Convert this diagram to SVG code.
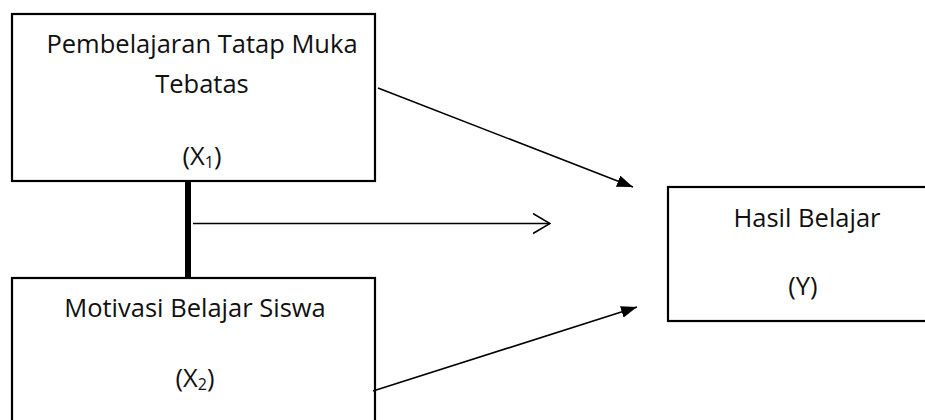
<svg xmlns="http://www.w3.org/2000/svg" width="925" height="420" viewBox="0 0 925 420">
<style>
.box{fill:#fff;stroke:#000;stroke-width:2.2}
.t{font-family:"Open Sans","Liberation Sans",sans-serif;font-size:25.5px;fill:#111;text-anchor:middle}
.sub{font-size:16px}
.ln{stroke:#000;stroke-width:1.6;fill:none}
</style>
<defs>
<marker id="tri" viewBox="0 0 16 12" refX="16" refY="6" markerWidth="16" markerHeight="12" markerUnits="userSpaceOnUse" orient="auto">
<path d="M0,0 L16,6 L0,12 Z" fill="#000"/>
</marker>
<marker id="open" viewBox="0 0 18 22" refX="17" refY="11" markerWidth="18" markerHeight="22" markerUnits="userSpaceOnUse" orient="auto">
<path d="M0,1 L17,11 L0,21" fill="none" stroke="#000" stroke-width="1.6"/>
</marker>
</defs>
<g id="x1">
<rect class="box" x="12" y="14" width="363" height="167"/>
<text class="t" x="202" y="53">Pembelajaran Tatap Muka</text>
<text class="t" x="202" y="93">Tebatas</text>
<text class="t" x="202" y="165">(X<tspan class="sub" dy="3">1</tspan><tspan dy="-3">)</tspan></text>
</g>
<g id="x2">
<rect class="box" x="12" y="278" width="363" height="160"/>
<text class="t" x="195" y="317">Motivasi Belajar Siswa</text>
<text class="t" x="195" y="387">(X<tspan class="sub" dy="3">2</tspan><tspan dy="-3">)</tspan></text>
</g>
<g id="y">
<rect class="box" x="668" y="187" width="270" height="134"/>
<text class="t" x="807" y="227">Hasil Belajar</text>
<text class="t" x="803" y="295">(Y)</text>
</g>
<g id="connectors">
<line x1="188" y1="181" x2="188" y2="278" stroke="#000" stroke-width="6"/>
<line class="ln" x1="193" y1="223.5" x2="550" y2="223.5" marker-end="url(#open)"/>
<line class="ln" x1="378" y1="88" x2="633" y2="187" marker-end="url(#tri)"/>
<line class="ln" x1="373" y1="391" x2="637" y2="307" marker-end="url(#tri)"/>
</g>
</svg>
